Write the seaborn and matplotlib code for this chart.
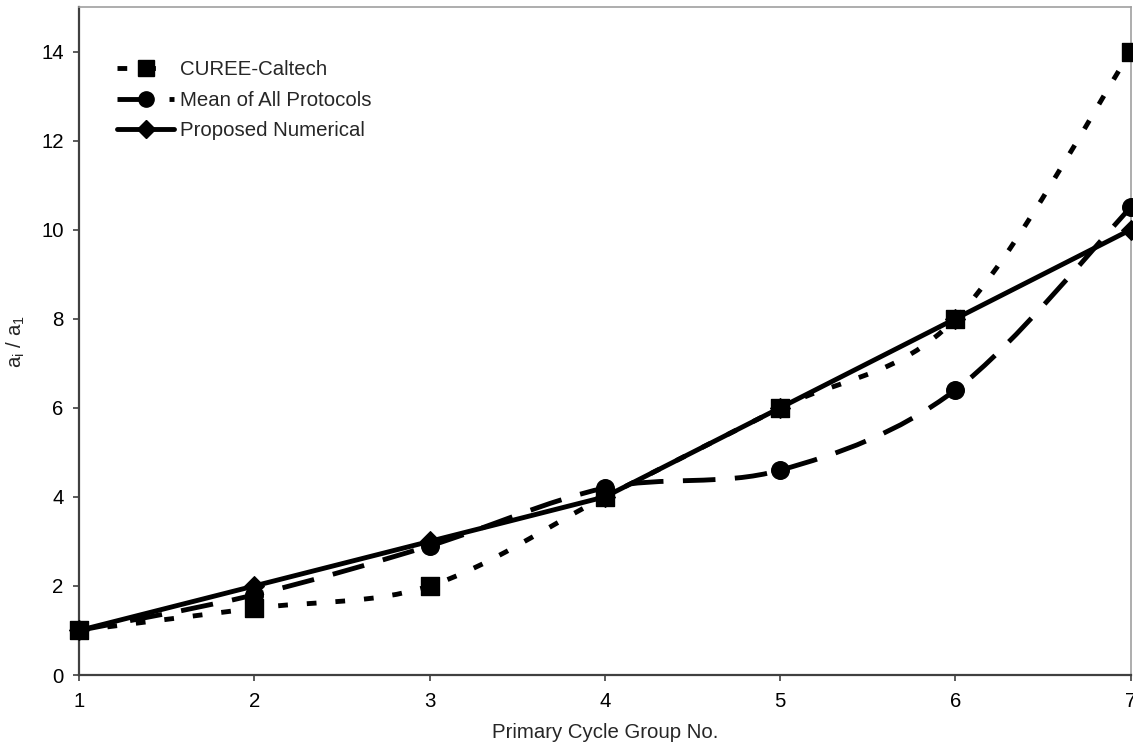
import numpy as np
import pandas as pd
import matplotlib
matplotlib.use("Agg")
import matplotlib.pyplot as plt
import seaborn as sns
from matplotlib.path import Path
from matplotlib.patches import PathPatch
from matplotlib.lines import Line2D

# valeurs
cycles = [1, 2, 3, 4, 5, 6, 7]
curee = [1, 1.5, 2, 4, 6, 8, 14]
mean_all = [1, 1.8, 2.9, 4.2, 4.6, 6.4, 10.5]
proposed = [1, 2, 3, 4, 6, 8, 10]

noms = ["CUREE-Caltech", "Mean of All Protocols", "Proposed Numerical"]


def smooth_path(x, y):
    """Courbe lissée façon Excel (Bezier, tension 1/6)"""
    pts = np.column_stack([x, y]).astype(float)
    n = len(pts)
    verts = [pts[0]]
    codes = [Path.MOVETO]
    for i in range(n - 1):
        p0 = pts[i - 1] if i > 0 else pts[i]
        p1 = pts[i]
        p2 = pts[i + 1]
        p3 = pts[i + 2] if i + 2 < n else pts[i + 1]
        c1 = p1 + (p2 - p0) / 6.0
        c2 = p2 - (p3 - p1) / 6.0
        verts += [c1, c2, p2]
        codes += [Path.CURVE4] * 3
    return Path(verts, codes)


sns.set_style("white")
plt.rcParams['font.family'] = ['Liberation Sans', 'DejaVu Sans']
plt.rcParams['mathtext.fontset'] = 'custom'
plt.rcParams['mathtext.rm'] = 'Liberation Sans'

fs = 14.7

fig = plt.figure(figsize=(11.33, 7.44), dpi=100)
ax = fig.add_axes([0.0697, 0.0927, 0.9283, 0.8979])

lw = 3.5
dotted = (0, (2.0, 3.9))
dashed = (0, (6.7, 4.0))

df = pd.DataFrame({'cycle': cycles, 'curee': curee, 'mean': mean_all, 'proposed': proposed})

# courbes lissées
ax.add_patch(PathPatch(smooth_path(cycles, curee), fill=False, lw=lw,
                       linestyle=dotted, edgecolor='black', capstyle='butt', zorder=2))
ax.add_patch(PathPatch(smooth_path(cycles, mean_all), fill=False, lw=lw,
                       linestyle=dashed, edgecolor='black', capstyle='butt', zorder=2))
sns.lineplot(data=df, x='cycle', y='proposed', ax=ax, color='black', lw=lw,
             marker='D', markersize=10, markeredgecolor='black', zorder=3)

sns.scatterplot(data=df, x='cycle', y='curee', ax=ax, marker='s', s=150,
                color='black', edgecolor='black', zorder=4, clip_on=False)
sns.scatterplot(data=df, x='cycle', y='mean', ax=ax, marker='o', s=160,
                color='black', edgecolor='black', zorder=4, clip_on=False)
for l in ax.lines:
    l.set_clip_on(False)

ax.set_xlim(1, 7)
ax.set_ylim(0, 15)
ax.set_xticks(cycles)
ax.set_yticks(range(0, 15, 2))
ax.tick_params(axis='both', direction='out', length=4, width=1.2, colors='#404040',
               labelcolor='black', labelsize=fs, pad=7, left=True, bottom=True)
ax.tick_params(axis='x', pad=8)

for side in ['left', 'bottom']:
    ax.spines[side].set_color('#404040')
    ax.spines[side].set_linewidth(1.6)
for side in ['top', 'right']:
    ax.spines[side].set_color('#a0a0a0')
    ax.spines[side].set_linewidth(1.2)

ax.set_xlabel("Primary Cycle Group No.", fontsize=fs, labelpad=9)
ax.set_ylabel(r"a$_\mathregular{i}$ / a$_\mathregular{1}$", fontsize=fs, labelpad=10)

handles = [
    Line2D([], [], color='black', lw=lw, linestyle=dotted, marker='s', markersize=11),
    Line2D([], [], color='black', lw=lw, linestyle=dashed, marker='o', markersize=11),
    Line2D([], [], color='black', lw=lw, marker='D', markersize=9),
]
ax.legend(handles, noms, loc='upper left', bbox_to_anchor=(0.019, 0.948), frameon=False,
          fontsize=fs, handlelength=2.8, handletextpad=0.25, labelspacing=0.57,
          numpoints=1)

fig.savefig("out.png", dpi=100)
